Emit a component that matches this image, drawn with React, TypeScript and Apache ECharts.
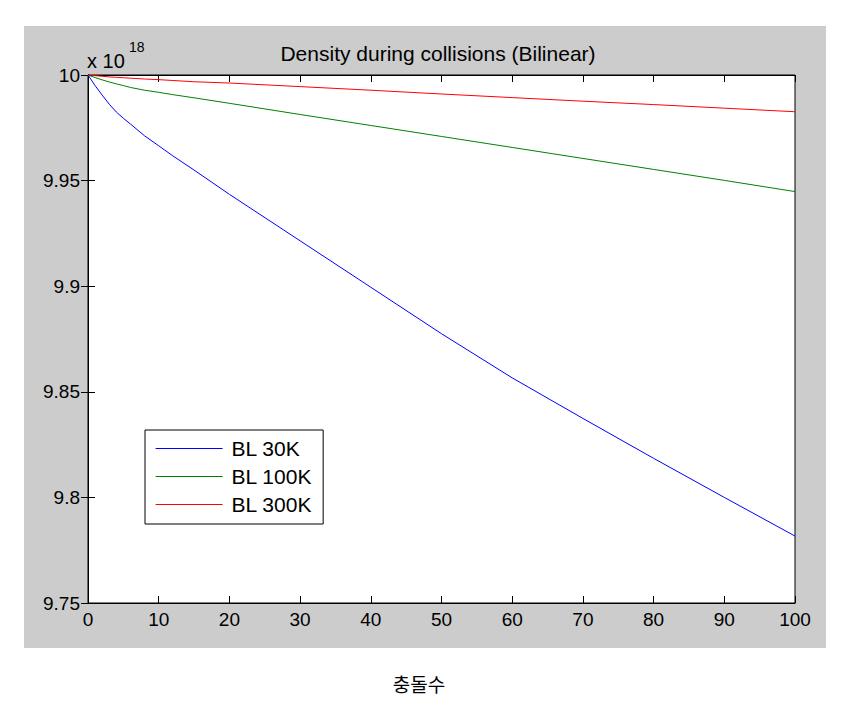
import React, { useEffect, useRef } from 'react';
import * as echarts from 'echarts';

// collision count (x axis)
const collisions = [0, 1, 2, 3, 4, 5, 6, 8, 10, 12, 15, 20, 30, 40, 50, 60, 70, 80, 90, 100];
// density, in units of 1e18
const bl30k = [10, 9.995, 9.9905, 9.9862, 9.9825, 9.9795, 9.9768, 9.9712, 9.9665, 9.9617, 9.955, 9.9435, 9.9215, 9.8995, 9.8775, 9.8566, 9.8374, 9.8185, 9.8, 9.7817];
const bl100k = [10, 9.9988, 9.9977, 9.9967, 9.9958, 9.995, 9.9941, 9.9928, 9.9918, 9.9907, 9.9892, 9.9866, 9.9813, 9.9761, 9.9709, 9.9657, 9.9605, 9.9553, 9.9501, 9.9448];
const bl300k = [10, 9.9997, 9.9994, 9.9991, 9.9989, 9.9987, 9.9985, 9.9981, 9.9978, 9.9974, 9.9968, 9.9962, 9.9945, 9.9928, 9.991, 9.9893, 9.9876, 9.986, 9.9843, 9.9826];

const seriesNames = ['BL 30K', 'BL 100K', 'BL 300K'];
const seriesColors = ['#0000ff', '#008000', '#ff0000'];
const seriesValues = [bl30k, bl100k, bl300k];

const xMin = 0;
const xMax = 100;
const xInterval = 10;
const yMin = 9.75;
const yMax = 10;
const yInterval = 0.05;

const titleText = 'Density during collisions (Bilinear)';
const exponentBase = 'x 10';
const exponentPower = '18';
const xAxisName = '충돌수';

export default function App() {
  const ref = useRef<HTMLDivElement>(null);

  useEffect(() => {
    document.body.style.margin = '0';
    const chart = echarts.init(ref.current!, null, { renderer: 'svg' });
    const font = '"Liberation Sans", Arial, Helvetica, sans-serif';
    const yFmt = (v: number) => String(Number(v.toFixed(2)));

    const tickStyle = { show: true, inside: true, length: 7, lineStyle: { color: '#000', width: 1 } };
    const lineStyle = { show: true, lineStyle: { color: '#000', width: 1 } };

    chart.setOption({
      animation: false,
      backgroundColor: '#ffffff',
      grid: {
        left: 88,
        top: 75,
        width: 707,
        height: 528,
        show: true,
        backgroundColor: '#ffffff',
        borderColor: '#000',
        borderWidth: 1,
      },
      xAxis: [
        {
          type: 'value',
          min: xMin,
          max: xMax,
          interval: xInterval,
          position: 'bottom',
          axisLine: lineStyle,
          axisTick: tickStyle,
          axisLabel: { color: '#000', fontSize: 19, fontFamily: font, margin: 7 },
          splitLine: { show: false },
        },
        {
          type: 'value',
          min: xMin,
          max: xMax,
          interval: xInterval,
          position: 'top',
          axisLine: lineStyle,
          axisTick: tickStyle,
          axisLabel: { show: false },
          splitLine: { show: false },
        },
      ],
      yAxis: [
        {
          type: 'value',
          min: yMin,
          max: yMax,
          interval: yInterval,
          position: 'left',
          axisLine: lineStyle,
          axisTick: tickStyle,
          axisLabel: { color: '#000', fontSize: 19, fontFamily: font, margin: 8, formatter: yFmt },
          splitLine: { show: false },
        },
        {
          type: 'value',
          min: yMin,
          max: yMax,
          interval: yInterval,
          position: 'right',
          axisLine: lineStyle,
          axisTick: tickStyle,
          axisLabel: { show: false },
          splitLine: { show: false },
        },
      ],
      legend: {
        orient: 'vertical',
        left: 145,
        top: 430,
        padding: [8, 11, 9, 10],
        backgroundColor: '#ffffff',
        borderColor: '#000',
        borderWidth: 1,
        borderRadius: 0,
        itemWidth: 67,
        itemHeight: 15,
        itemGap: 7,
        itemStyle: { opacity: 0 },
        selectedMode: false,
        textStyle: { fontSize: 21, fontFamily: font, color: '#000', padding: [0, 0, 0, 4] },
        data: seriesNames.map((name, i) => ({
          name,
          lineStyle: { color: seriesColors[i], width: 1.2 },
        })),
      },
      series: seriesNames.map((name, i) => ({
        name,
        type: 'line',
        xAxisIndex: 0,
        yAxisIndex: 0,
        symbol: 'none',
        showSymbol: false,
        smooth: false,
        lineStyle: { color: seriesColors[i], width: 1 },
        itemStyle: { color: seriesColors[i] },
        data: collisions.map((x, j) => [x, seriesValues[i][j]]),
      })),
      graphic: [
        {
          type: 'rect',
          z: -10,
          silent: true,
          shape: { x: 24, y: 26, width: 802, height: 622 },
          style: { fill: '#cccccc' },
        },
        {
          type: 'text',
          x: 438,
          y: 53,
          silent: true,
          style: {
            text: titleText,
            fill: '#000',
            fontSize: 21,
            fontFamily: font,
            textAlign: 'center',
            align: 'center',
            textVerticalAlign: 'middle',
            verticalAlign: 'middle',
          },
        },
        {
          type: 'text',
          x: 87,
          y: 61,
          silent: true,
          style: {
            text: exponentBase,
            fill: '#000',
            fontSize: 20,
            fontFamily: font,
            textAlign: 'left',
            align: 'left',
            textVerticalAlign: 'middle',
            verticalAlign: 'middle',
          },
        },
        {
          type: 'text',
          x: 129,
          y: 47,
          silent: true,
          style: {
            text: exponentPower,
            fill: '#000',
            fontSize: 14,
            fontFamily: font,
            textAlign: 'left',
            align: 'left',
            textVerticalAlign: 'middle',
            verticalAlign: 'middle',
          },
        },
        {
          type: 'text',
          x: 419,
          y: 683,
          silent: true,
          style: {
            text: xAxisName,
            fill: '#000',
            fontSize: 19,
            fontFamily: '"Noto Sans CJK KR", sans-serif',
            textAlign: 'center',
            align: 'center',
            textVerticalAlign: 'middle',
            verticalAlign: 'middle',
          },
        },
      ],
    });

    return () => chart.dispose();
  }, []);

  return <div ref={ref} style={{ width: 842, height: 711 }} />;
}
